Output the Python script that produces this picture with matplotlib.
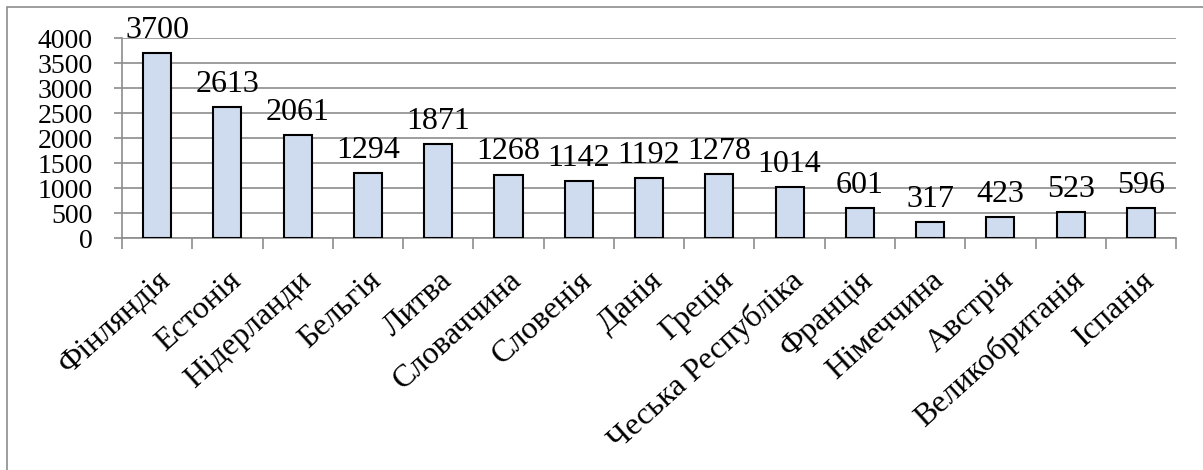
import matplotlib.pyplot as plt
import numpy as np
from matplotlib.patches import Rectangle

countries = ['Фінляндія', 'Естонія', 'Нідерланди', 'Бельгія', 'Литва',
             'Словаччина', 'Словенія', 'Данія', 'Греція', 'Чеська Республіка',
             'Франція', 'Німеччина', 'Австрія', 'Великобританія', 'Іспанія']
values = [3700, 2613, 2061, 1294, 1871, 1268, 1142, 1192, 1278, 1014,
          601, 317, 423, 523, 596]
yticks = [0, 500, 1000, 1500, 2000, 2500, 3000, 3500, 4000]

plt.rcParams['font.family'] = ['Liberation Serif', 'DejaVu Serif']

fig = plt.figure(figsize=(12.03, 4.70), dpi=100)
ax = fig.add_axes([0.1014, 0.4936, 0.8762, 0.4255])

# chart frame
fig.patches.append(Rectangle((7 / 1203, -0.05), 1.1, 1 - 7 / 470 + 0.05,
                             transform=fig.transFigure, fill=False,
                             edgecolor='#8c8c8c', linewidth=1.2, zorder=0))

x = np.arange(len(countries))
ax.bar(x, values, width=0.4, color='#cfdcef', edgecolor='black',
       linewidth=1.5, zorder=3)

for xi, v in zip(x, values):
    ax.annotate(str(v), (xi, v), xytext=(0, 6), textcoords='offset points',
                ha='center', va='bottom', fontsize=23)

ax.set_xlim(-0.5, len(countries) - 0.5)
ax.set_ylim(0, 4000)
ax.set_yticks(yticks)
ax.set_yticklabels([str(t) for t in yticks], fontsize=20)
ax.yaxis.grid(True, color='#8c8c8c', linewidth=1.2, zorder=0)
ax.tick_params(axis='y', length=6, width=1.2, color='#8c8c8c', pad=15)

ax.set_xticks(np.arange(len(countries) + 1) - 0.5)
ax.set_xticklabels([])
ax.tick_params(axis='x', length=8, width=1.2, color='#8c8c8c')
ax.set_xticks(x, minor=True)
ax.set_xticklabels(countries, minor=True, rotation=42, ha='right',
                   rotation_mode='anchor', fontsize=23)
ax.tick_params(axis='x', which='minor', length=0, pad=20)

for s in ['top', 'right']:
    ax.spines[s].set_visible(False)
for s in ['left', 'bottom']:
    ax.spines[s].set_color('#8c8c8c')
    ax.spines[s].set_linewidth(1.2)

fig.savefig('out.png', dpi=100)
